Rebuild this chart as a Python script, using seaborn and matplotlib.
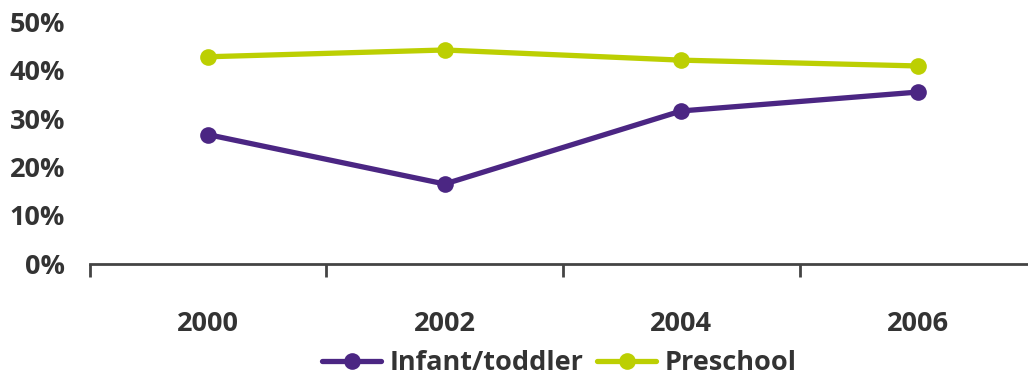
import matplotlib.pyplot as plt
import seaborn as sns
import pandas as pd
from matplotlib.ticker import FixedLocator, PercentFormatter

# data
years = ['2000', '2002', '2004', '2006']
infant_toddler = [0.267, 0.165, 0.316, 0.355]
preschool = [0.428, 0.442, 0.421, 0.409]

series_names = ['Infant/toddler', 'Preschool']
colors = {'Infant/toddler': '#4B2683', 'Preschool': '#BCCF02'}

df = pd.DataFrame({
    'Year': years * 2,
    'Share': infant_toddler + preschool,
    'Series': [series_names[0]] * len(years) + [series_names[1]] * len(years),
})

sns.set_style('white')
plt.rcParams['font.family'] = ['Open Sans', 'DejaVu Sans']
text_color = '#333333'

fig, ax = plt.subplots(figsize=(10.28, 3.78), dpi=100)
fig.subplots_adjust(left=0.0875, right=1.0078, top=0.942, bottom=0.302)

sns.lineplot(data=df, x='Year', y='Share', hue='Series', hue_order=series_names,
             palette=colors, marker='o', markersize=12, markeredgewidth=0,
             linewidth=3.8, ax=ax, sort=False)

ax.set_ylim(0, 0.5)
ax.set_xlim(-0.5, 3.5)
ax.yaxis.set_major_formatter(PercentFormatter(1.0, decimals=0))
ax.set_yticks([0, 0.1, 0.2, 0.3, 0.4, 0.5])
ax.tick_params(axis='y', length=0, pad=18, labelsize=19.5, labelcolor=text_color)
ax.tick_params(axis='x', which='major', length=0, pad=34, labelsize=19.5, labelcolor=text_color)
ax.xaxis.set_minor_locator(FixedLocator([-0.5, 0.5, 1.5, 2.5, 3.5]))
ax.tick_params(axis='x', which='minor', bottom=True, length=9, width=2,
               color='#444444', direction='out')
for lbl in ax.get_xticklabels() + ax.get_yticklabels():
    lbl.set_fontweight('bold')

for side in ['top', 'right', 'left']:
    ax.spines[side].set_visible(False)
ax.spines['bottom'].set_color('#444444')
ax.spines['bottom'].set_linewidth(2)

ax.set_xlabel('')
ax.set_ylabel('')

leg = ax.legend(loc='center', bbox_to_anchor=(0.496, -0.41), ncol=2, frameon=False,
                prop={'weight': 'bold', 'size': 19.5}, handlelength=2.2,
                handletextpad=0.3, columnspacing=0.5, borderaxespad=0)
for t in leg.get_texts():
    t.set_color(text_color)

plt.savefig('out.png', dpi=100)
